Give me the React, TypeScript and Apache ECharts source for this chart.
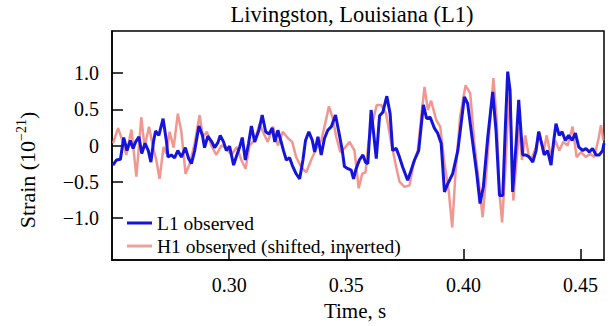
import React, { useEffect, useRef } from "react";
import * as echarts from "echarts";

const l1Time = [
  0.2504, 0.2519, 0.2536, 0.255, 0.2564, 0.2578, 0.259, 0.2601, 0.2615, 0.2627, 0.2641, 0.2655, 0.2666, 0.2678,
  0.2686, 0.27, 0.2718, 0.2732, 0.2739, 0.2753, 0.2767, 0.2781, 0.2796, 0.2813, 0.2827, 0.2839, 0.2853, 0.2871,
  0.2886, 0.2895, 0.2909, 0.2926, 0.2938, 0.2952, 0.2962, 0.2976, 0.2988, 0.3002, 0.3019, 0.3033, 0.3045, 0.3056,
  0.3069, 0.3083, 0.3095, 0.3109, 0.3127, 0.3141, 0.3156, 0.317, 0.3184, 0.3195, 0.3208, 0.3222, 0.3232, 0.3244,
  0.3258, 0.3269, 0.3286, 0.3301, 0.3315, 0.3326, 0.334, 0.3355, 0.3365, 0.3379, 0.3393, 0.3407, 0.3421, 0.3436,
  0.3454, 0.3468, 0.3483, 0.3492, 0.3507, 0.3521, 0.3531, 0.3542, 0.3556, 0.3571, 0.3582, 0.3592, 0.3606, 0.3616,
  0.3628, 0.3642, 0.3656, 0.3673, 0.3687, 0.3698, 0.3713, 0.3727, 0.3741, 0.3762, 0.3777, 0.3791, 0.3809, 0.3829,
  0.3843, 0.3858, 0.3876, 0.389, 0.3905, 0.3919, 0.3933, 0.3954, 0.3976, 0.399, 0.4004, 0.4018, 0.404, 0.4057,
  0.4071, 0.4085, 0.4104, 0.4125, 0.4139, 0.4154, 0.4168, 0.4179, 0.4189, 0.4199, 0.421, 0.4225, 0.4236, 0.4246,
  0.4253, 0.4267, 0.4281, 0.4296, 0.431, 0.4321, 0.4336, 0.4345, 0.4359, 0.4374, 0.4384, 0.4395, 0.4409, 0.4421,
  0.4435, 0.4449, 0.4464, 0.4478, 0.4492, 0.4509, 0.4523, 0.4537, 0.4551, 0.4566, 0.458, 0.4594, 0.46,
];
const l1Strain = [
  -0.27, -0.2, -0.19, 0.11, -0.07, 0.07, -0.04, 0.05, 0.12, -0.11, 0.03, -0.07, -0.23, 0.07,
  0.2, 0.14, 0.37, 0.07, -0.16, -0.13, -0.17, -0.07, -0.16, -0.03, -0.18, -0.25, -0.07, 0.27,
  0.14, -0.03, 0.13, 0.05, -0.03, 0.04, 0.14, 0.05, -0.07, -0.01, -0.27, -0.13, -0.02, 0.11,
  -0.2, 0.03, 0.27, 0.05, 0.21, 0.42, 0.19, 0.16, 0.24, 0.05, 0.21, 0.05, -0.07, -0.2,
  -0.17, -0.27, -0.39, -0.46, -0.2, 0.07, 0.19, 0.07, -0.09, 0.12, -0.13, 0.1, 0.21, 0.26,
  0.42, 0.19, -0.07, -0.29, -0.32, -0.34, -0.46, -0.32, -0.2, -0.13, -0.23, -0.25, 0.49, 0.19,
  -0.18, 0.41, 0.46, 0.68, 0.44, -0.07, -0.04, -0.16, -0.3, -0.48, -0.34, -0.2, -0.07, 0.56,
  0.37, 0.39, 0.24, 0.17, 0.03, -0.64, -0.53, -0.39, -0.07, 0.3, 0.67, 0.58, 0.03, -0.39,
  -0.8, -0.57, 0.12, 0.74, 0.21, -0.69, -0.69, 0.26, 1.02, 0.76, -0.64, 0.03, 0.63, 0.17,
  -0.13, -0.13, -0.16, -0.23, -0.07, 0.19, 0.0, -0.13, -0.07, -0.27, 0.03, 0.3, 0.14, 0.19,
  0.07, 0.14, 0.07, 0.17, -0.02, -0.07, -0.04, -0.09, -0.04, -0.13, -0.13, -0.07, 0.03,
];

const h1Time = [
  0.2504, 0.2526, 0.2544, 0.2561, 0.2583, 0.2604, 0.2625, 0.2639, 0.2658, 0.2675, 0.2689, 0.2703, 0.272, 0.2732,
  0.2746, 0.2763, 0.2781, 0.2796, 0.2814, 0.2834, 0.2853, 0.2874, 0.2888, 0.2905, 0.2924, 0.2945, 0.2967, 0.2988,
  0.3009, 0.3033, 0.3052, 0.307, 0.3087, 0.3109, 0.313, 0.3147, 0.3165, 0.3187, 0.3208, 0.3229, 0.3251, 0.3269,
  0.3286, 0.3308, 0.3329, 0.335, 0.3372, 0.3393, 0.3407, 0.3426, 0.3443, 0.3457, 0.3474, 0.3492, 0.3514, 0.3535,
  0.3553, 0.3568, 0.3582, 0.3596, 0.3613, 0.363, 0.3649, 0.367, 0.3692, 0.371, 0.3727, 0.3748, 0.377, 0.3787,
  0.3805, 0.382, 0.3834, 0.3848, 0.3862, 0.3884, 0.3901, 0.3919, 0.3937, 0.3952, 0.3966, 0.3986, 0.4009, 0.4029,
  0.4047, 0.4068, 0.4082, 0.4099, 0.4118, 0.4128, 0.4142, 0.4154, 0.4165, 0.4179, 0.4189, 0.4199, 0.4213, 0.4227,
  0.4239, 0.425, 0.4264, 0.4281, 0.4293, 0.431, 0.4324, 0.4341, 0.4355, 0.4374, 0.4392, 0.4409, 0.4426, 0.4445,
  0.4466, 0.4483, 0.4502, 0.4523, 0.454, 0.4559, 0.4577, 0.4587, 0.4597,
];
const h1Strain = [
  0.03, 0.24, 0.07, -0.13, 0.22, -0.43, 0.39, -0.02, 0.26, -0.02, -0.2, -0.46, -0.02, -0.11,
  0.19, -0.03, 0.44, 0.19, -0.39, -0.23, 0.03, 0.42, 0.12, 0.19, 0.0, -0.13, 0.0, -0.03,
  -0.13, -0.02, -0.2, -0.32, 0.0, 0.07, 0.3, 0.17, 0.05, 0.26, 0.0, 0.19, 0.1, 0.05,
  -0.16, -0.3, -0.37, -0.2, -0.04, 0.07, 0.26, 0.54, 0.37, 0.12, -0.09, -0.04, 0.05, -0.07,
  -0.59, -0.39, -0.37, 0.07, 0.33, 0.56, 0.56, 0.44, 0.03, -0.25, -0.5, -0.57, -0.55, -0.25,
  -0.07, 0.4, 0.81, 0.49, 0.62, 0.35, 0.26, -0.25, -0.62, -1.13, -0.39, 0.4, 0.83, 0.72,
  0.03, -0.57, -0.99, -0.34, 0.53, 0.93, 0.35, -0.66, -1.06, -0.34, 0.35, 0.72, -0.76, -0.2,
  0.26, -0.2, 0.14, -0.18, -0.16, -0.02, 0.19, -0.11, 0.14, -0.16, 0.07, -0.07, 0.05, 0.0,
  0.26, -0.16, -0.09, -0.16, -0.11, -0.16, 0.1, 0.28, 0.07,
];

const xTickValues = [0.3, 0.35, 0.4, 0.45];
const xTickLabels = ["0.30", "0.35", "0.40", "0.45"];
const yTickValues = [-1, -0.5, 0, 0.5, 1];
const yTickLabels = ["\u22121.0", "\u22120.5", "0", "0.5", "1.0"];

const seriesNames = ["L1 observed", "H1 observed (shifted, inverted)"];
const titleText = "Livingston, Louisiana (L1)";
const xAxisTitle = "Time, s";

const FONT = "'Liberation Serif', 'Times New Roman', serif";

export default function App() {
  const ref = useRef<HTMLDivElement>(null);
  useEffect(() => {
    if (!ref.current) return;
    const chart = echarts.init(ref.current, null, { renderer: "svg" });
    const l1Data = l1Time.map((t, i) => [t, l1Strain[i]]);
    const h1Data = h1Time.map((t, i) => [t, h1Strain[i]]);
    const fmt = (vals: number[], labels: string[]) => (v: number) => {
      const i = vals.findIndex((x) => Math.abs(x - v) < 1e-6);
      return i >= 0 ? labels[i] : "";
    };
    chart.setOption({
      animation: false,
      backgroundColor: "#ffffff",
      textStyle: { fontFamily: FONT },
      grid: {
        left: 112,
        right: 6,
        top: 31,
        bottom: 66,
        show: true,
        borderColor: "#000",
        borderWidth: 1.5,
        backgroundColor: "transparent",
      },
      legend: {
        orient: "vertical",
        left: 122,
        top: 208,
        itemWidth: 25,
        itemHeight: 3,
        itemGap: 3,
        icon: "rect",
        data: seriesNames,
        textStyle: { fontFamily: FONT, fontSize: 19.5, color: "#000", lineHeight: 20 },
      },
      xAxis: {
        type: "value",
        min: 0.25,
        max: 0.46,
        splitLine: { show: false },
        axisLine: { show: true, onZero: false, lineStyle: { color: "#000", width: 1.5 } },
        axisTick: {
          show: true,
          inside: true,
          length: 11,
          customValues: xTickValues,
          lineStyle: { color: "#000", width: 1.5 },
        },
        axisLabel: {
          customValues: xTickValues,
          formatter: fmt(xTickValues, xTickLabels),
          fontFamily: FONT,
          fontSize: 20,
          color: "#000",
          margin: 15,
        },
      },
      yAxis: {
        type: "value",
        min: -1.58,
        max: 1.58,
        splitLine: { show: false },
        axisLine: { show: true, onZero: false, lineStyle: { color: "#000", width: 1.5 } },
        axisTick: {
          show: true,
          inside: true,
          length: 11,
          customValues: yTickValues,
          lineStyle: { color: "#000", width: 1.5 },
        },
        axisLabel: {
          customValues: yTickValues,
          formatter: fmt(yTickValues, yTickLabels),
          fontFamily: FONT,
          fontSize: 20,
          color: "#000",
          margin: 13,
        },
      },
      graphic: [
        {
          type: "text",
          x: 352,
          y: 14,
          style: {
            text: titleText,
            fontFamily: FONT,
            fontSize: 22.5,
            fill: "#000",
            align: "center",
            verticalAlign: "middle",
          },
        },
        {
          type: "text",
          x: 355,
          y: 311,
          style: {
            text: xAxisTitle,
            fontFamily: FONT,
            fontSize: 21,
            fill: "#000",
            align: "center",
            verticalAlign: "middle",
          },
        },
        {
          type: "text",
          x: 27,
          y: 170,
          rotation: Math.PI / 2,
          style: {
            text: "{a|Strain (10}{s|\u221221}{a|)}",
            fontFamily: FONT,
            fontSize: 22,
            fill: "#000",
            align: "center",
            verticalAlign: "middle",
            rich: {
              a: { fontFamily: FONT, fontSize: 22, fill: "#000", lineHeight: 26 },
              s: { fontFamily: FONT, fontSize: 14, fill: "#000", lineHeight: 26, padding: [0, 0, 11, 0] },
            },
          },
        },
      ],
      series: [
        {
          name: seriesNames[1],
          type: "line",
          data: h1Data,
          showSymbol: false,
          symbol: "none",
          z: 2,
          lineStyle: { color: "#f0857d", width: 2.5, opacity: 0.85 },
          itemStyle: { color: "#f0a09a" },
        },
        {
          name: seriesNames[0],
          type: "line",
          data: l1Data,
          showSymbol: false,
          symbol: "none",
          z: 3,
          lineStyle: { color: "#1414dc", width: 3 },
          itemStyle: { color: "#1414dc" },
        },
      ],
    });
    return () => chart.dispose();
  }, []);
  return (
    <div
      ref={ref}
      style={{ position: "fixed", left: 0, top: 0, width: 610, height: 326, background: "#fff" }}
    />
  );
}
